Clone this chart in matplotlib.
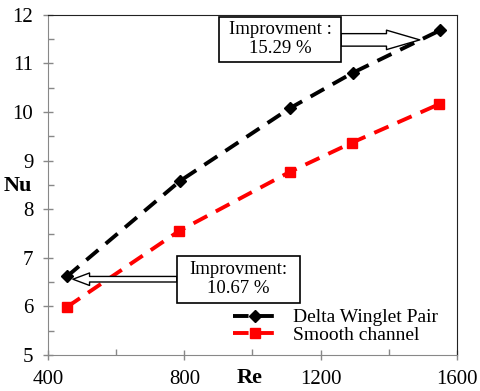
import matplotlib
matplotlib.use("Agg")
import matplotlib.pyplot as plt
from matplotlib.patches import FancyArrowPatch, Rectangle
from matplotlib.ticker import MultipleLocator

plt.rcParams['font.family'] = ['Liberation Serif', 'DejaVu Serif']

re_dwp = [456, 787, 1110, 1295, 1550]
nu_dwp = [6.62, 8.58, 10.08, 10.81, 11.68]
re_smooth = [456, 784, 1110, 1292, 1547]
nu_smooth = [5.99, 7.55, 8.77, 9.37, 10.16]
series_names = ["Delta Winglet Pair", "Smooth channel"]
x_ticks = [400, 800, 1200, 1600]
y_ticks = [5, 6, 7, 8, 9, 10, 11, 12]

fig = plt.figure(figsize=(4.8, 3.91), dpi=100)
ax = fig.add_axes([0.1, 0.092, 0.852, 0.87])

ax.plot(re_dwp, nu_dwp, color='black', lw=2.8, ls=(0, (4, 2.5)), marker='D',
        ms=6, label=series_names[0])
ax.plot(re_smooth, nu_smooth, color='#FF0000', lw=2.8, ls=(0, (4, 2.5)), marker='s',
        ms=7, label=series_names[1])

ax.set_xlim(400, 1600)
ax.set_ylim(5, 12)
ax.set_xticks(x_ticks)
ax.set_yticks(y_ticks)
ax.xaxis.set_minor_locator(MultipleLocator(200))
ax.yaxis.set_minor_locator(MultipleLocator(0.5))
ax.tick_params(which='major', direction='inout', length=7, color='#888888',
               labelsize=15, labelcolor='black', width=1)
ax.tick_params(which='minor', direction='in', length=4, color='#888888', width=1)
ax.tick_params(axis='x', which='major', pad=7)
ax.tick_params(axis='y', which='major', pad=7)
for s in ['left', 'bottom']:
    ax.spines[s].set_color('#888888')
for s in ['top', 'right']:
    ax.spines[s].set_color('#222222')

fig.text(0.037, 0.525, 'Nu', fontsize=16, fontweight='bold', ha='center', va='center')
fig.text(0.521, 0.033, 'Re', fontsize=16, fontweight='bold', ha='center', va='center')

# top callout
ax.add_patch(Rectangle((902, 11.03), 358, 0.93, fc='white', ec='black', lw=1.2, zorder=5))
ax.text(1081, 11.495, 'Improvment :\n15.29 %', ha='center', va='center', fontsize=13.5,
        linespacing=1.15, zorder=6)
ax.add_patch(FancyArrowPatch((1260, 11.485), (1491, 11.485),
                             arrowstyle='simple,head_length=24,head_width=14,tail_width=9',
                             mutation_scale=1, fc='white', ec='black', lw=1,
                             shrinkA=0, shrinkB=0, zorder=4))

# bottom callout
ax.add_patch(Rectangle((778, 6.07), 361, 0.97, fc='white', ec='black', lw=1.2, zorder=5))
ax.text(958, 6.56, 'Improvment:\n10.67 %', ha='center', va='center', fontsize=13.5,
        linespacing=1.15, zorder=6)
ax.add_patch(FancyArrowPatch((778, 6.56), (473, 6.56),
                             arrowstyle='simple,head_length=12,head_width=9,tail_width=4',
                             mutation_scale=1, fc='white', ec='black', lw=1,
                             shrinkA=0, shrinkB=0, zorder=4))

ax.legend(loc='center left', bbox_to_anchor=(0.452, 0.084), frameon=False, fontsize=14,
          handlelength=2.3, handletextpad=0.77, labelspacing=0.0, numpoints=1,
          borderpad=0, borderaxespad=0)

fig.savefig('out.png', dpi=100)
